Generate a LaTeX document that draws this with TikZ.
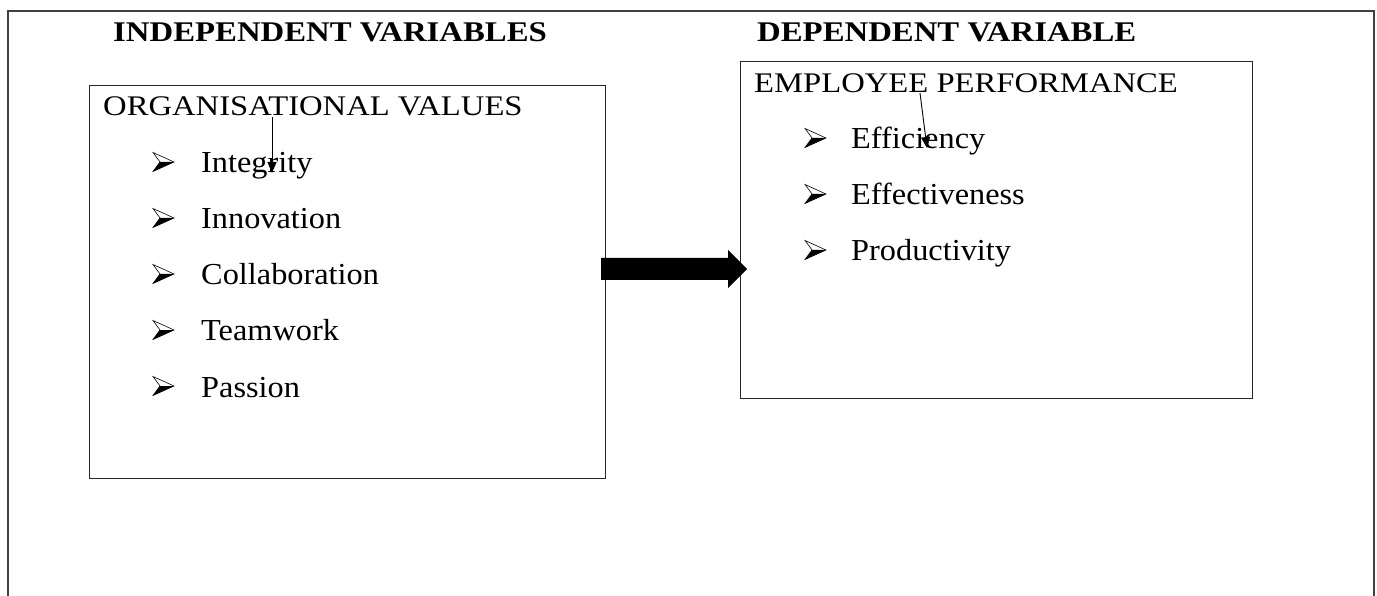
\documentclass[tikz,border=0pt]{standalone}
\usepackage{fontspec}
\usepackage{graphicx}
\setmainfont{Liberation Serif}
\usetikzlibrary{arrows.meta}
\newcommand{\hdtxt}[1]{\scalebox{1.15}[1]{\fontsize{28.5}{32}\selectfont\bfseries #1}}
\newcommand{\tttxt}[1]{\scalebox{1.15}[1]{\fontsize{28.4}{32}\selectfont #1}}
\newcommand{\ittxt}[1]{\scalebox{1.06}[1]{\fontsize{30.5}{34}\selectfont #1}}
\begin{document}
\begin{tikzpicture}[x=1pt,y=-1pt,
  box/.style={draw=black!85, line width=1.4pt, anchor=north west, inner sep=0pt},
  txt/.style={anchor=base west, inner sep=0pt},
  thin/.style={line width=0.9pt, -{Triangle[length=11pt,width=9pt]}},
  bulletpic/.pic={
    \draw[line width=0.6pt, line join=miter] (0,-9.5) -- (21,0) -- (0,9.5) -- (7,0) -- cycle;
    \fill (7,0) -- (21,0) -- (0,9.5) -- cycle;
  }]
\useasboundingbox (0,0) rectangle (1377,596);
% outer frame
\draw[line width=1.6pt, black!75] (8,597) -- (8,11) -- (1374,11) -- (1374,597);
% headings
\node[txt] (h1) at (113,42) {\hdtxt{INDEPENDENT VARIABLES}};
\node[txt] (h2) at (757,42) {\hdtxt{DEPENDENT VARIABLE}};
% boxes
\node[box, minimum width=516pt, minimum height=393pt] (L) at (89,85) {};
\node[box, minimum width=512pt, minimum height=337pt] (R) at (740,61) {};
% left contents
\node[txt] (lt) at (103,116) {\tttxt{ORGANISATIONAL VALUES}};
\foreach \t/\y [count=\i] in {Integrity/173, Innovation/229, Collaboration/285, Teamwork/341, Passion/397}{
  \pic (lb\i) at (153,\y-11) {bulletpic};
  \node[txt] (li\i) at (201,\y) {\ittxt{\t}};
}
% right contents
\node[txt] (rt) at (754,93) {\tttxt{EMPLOYEE PERFORMANCE}};
\foreach \t/\y [count=\i] in {Efficiency/149, Effectiveness/205, Productivity/261}{
  \pic (rb\i) at (805,\y-11) {bulletpic};
  \node[txt] (ri\i) at (851,\y) {\ittxt{\t}};
}
% small arrows
\coordinate (a1s) at (272,117);
\coordinate (a1e) at (272,173);
\draw[thin] (a1s) -- (a1e);
\coordinate (a2s) at (920,93);
\coordinate (a2e) at (927,148);
\draw[thin] (a2s) -- (a2e);
% block arrow between boxes
\fill[black] (601,258) -- (728,258) -- (728,250) -- (747,269) -- (728,288) -- (728,280) -- (601,280) -- cycle;
\end{tikzpicture}
\end{document}
